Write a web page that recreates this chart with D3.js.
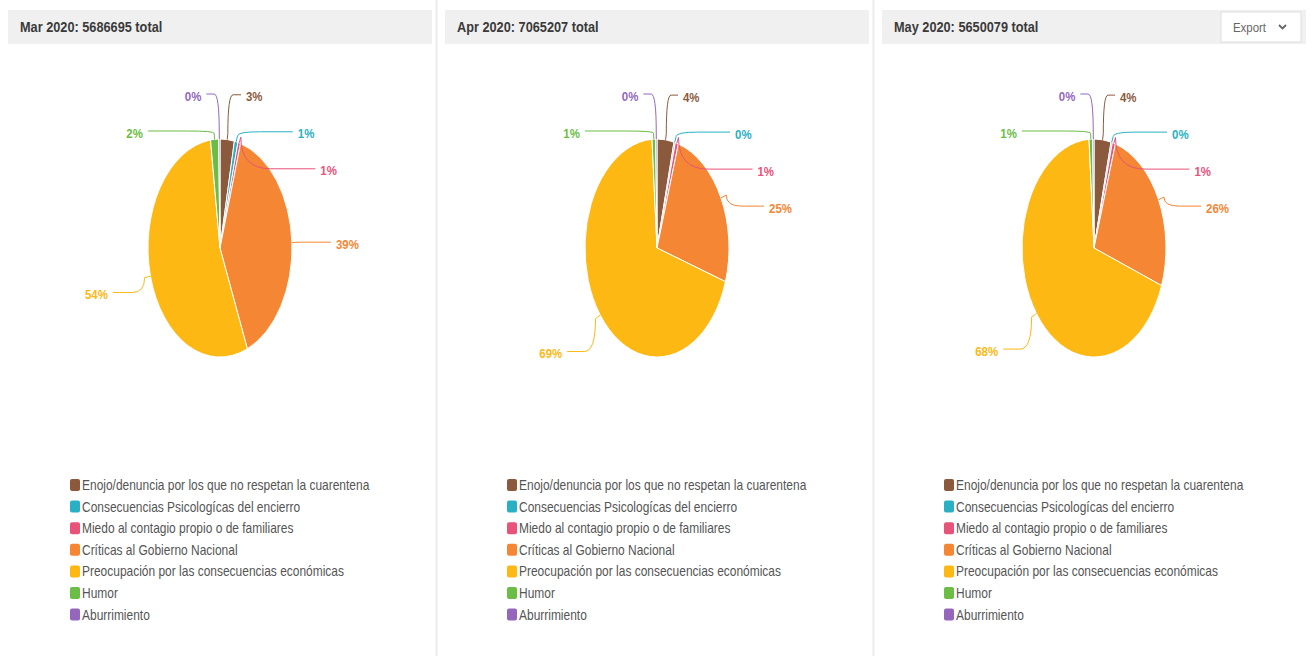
<!DOCTYPE html>
<html>
<head>
<meta charset="utf-8">
<script src="https://cdn.jsdelivr.net/npm/d3@7"></script>
<style>
  body { margin: 0; background: #fff; }
  svg { display: block; font-family: "Liberation Sans", Arial, sans-serif; }
</style>
</head>
<body>
<svg id="chart" width="1313" height="656"></svg>
<script>
// categories (legend order = slice order, clockwise from 12 o'clock)
const categories = [
    "Enojo/denuncia por los que no respetan la cuarentena",
    "Consecuencias Psicologícas del encierro",
    "Miedo al contagio propio o de familiares",
    "Críticas al Gobierno Nacional",
    "Preocupación por las consecuencias económicas",
    "Humor",
    "Aburrimiento"
];
const colors = ["#8b5a3c", "#2ab0c5", "#e8537a", "#f58634", "#fdb813", "#6cbd45", "#9467bd"];

// months and totals
const months = ["Mar 2020", "Apr 2020", "May 2020"];
const totals = [5686695, 7065207, 5650079];

// share of each category in percent
const marValues = [3.2, 0.8, 0.6, 39.2, 54.1, 1.8, 0.3];
const aprValues = [3.8, 0.3, 0.7, 25.2, 68.9, 0.8, 0.3];
const mayValues = [3.8, 0.3, 0.7, 25.8, 68.3, 0.8, 0.3];
const series = [marValues, aprValues, mayValues];

const svg = d3.select("#chart");
const panelW = 437;

// vertical separators between panels
[1, 2].forEach(i => {
    svg.append("line")
        .attr("x1", i * panelW - 0.5).attr("x2", i * panelW - 0.5)
        .attr("y1", 0).attr("y2", 656)
        .attr("stroke", "#ececec").attr("stroke-width", 2);
});

function drawPanel(idx) {
    let values = series[idx];
    let g = svg.append("g").attr("transform", `translate(${idx * panelW},0)`);

    // header bar
    g.append("rect")
        .attr("x", 8).attr("y", 10)
        .attr("width", 424).attr("height", 34)
        .attr("fill", "#f0f0f0");
    g.append("text")
        .attr("transform", "translate(20,32) scale(0.91,1)")
        .attr("font-size", 14).attr("font-weight", "bold")
        .attr("fill", "#3a3a3a")
        .text(`${months[idx]}: ${totals[idx]} total`);

    // pie (drawn as a circle, squeezed to an ellipse like the picture)
    let cx = 220, cy = 248, rx = 72, ry = 109;
    let data = d3.pie().sort(null)(values);
    let arc = d3.arc().innerRadius(0).outerRadius(ry);

    g.append("g")
        .attr("transform", `translate(${cx},${cy}) scale(${rx / ry},1)`)
        .selectAll("path")
        .data(data)
        .enter()
        .append("path")
        .attr("d", arc)
        .attr("fill", (d, i) => colors[i])
        .attr("stroke", "#fff")
        .attr("stroke-width", 1)
        .attr("vector-effect", "non-scaling-stroke");

    // labels: placed on an outer ellipse, then spread vertically on each side
    let lrx = rx + 44, gap = 37;
    let labels = data.map((d, i) => {
        let a = (d.startAngle + d.endAngle) / 2;
        let c = Math.cos(a);
        let lry = c > 0 ? 156 : 165;
        return {
            i: i,
            a: a,
            side: Math.sin(a) >= 0 ? 1 : -1,
            y: cy + 4 - lry * c,
            text: Math.round(values[i]) + "%"
        };
    });
    [1, -1].forEach(side => {
        let list = labels.filter(l => l.side === side).sort((p, q) => p.y - q.y);
        for (let k = 1; k < list.length; k++) {
            if (list[k].y < list[k - 1].y + gap) list[k].y = list[k - 1].y + gap;
        }
    });
    labels.forEach(l => {
        let norm = l.y < cy ? 154 : 183;
        let dy = Math.max(-1, Math.min(1, (l.y - cy) / norm));
        let off = Math.max(l.side > 0 ? 26 : 17, lrx * Math.sqrt(1 - dy * dy));
        l.x = cx + l.side * off;
    });

    labels.forEach(l => {
        let sx = Math.sin(l.a), sy = -Math.cos(l.a);
        let p0 = [cx + rx * sx, cy + ry * sy];
        let p1 = [cx + (rx + 6) * sx, cy + (ry + 6) * sy];
        let ex = l.x - l.side * 5, ey = l.y - 2;
        let path = d3.path();
        path.moveTo(p0[0], p0[1]);
        path.lineTo(p1[0], p1[1]);
        path.quadraticCurveTo(p1[0], ey, p1[0] + (ex - p1[0]) * 0.4, ey);
        path.lineTo(ex, ey);
        g.append("path")
            .attr("d", path.toString())
            .attr("fill", "none")
            .attr("stroke", colors[l.i])
            .attr("stroke-width", 1);
        g.append("text")
            .attr("transform", `translate(${l.x},${l.y}) scale(0.88,1)`)
            .attr("dy", "0.35em")
            .attr("text-anchor", l.side > 0 ? "start" : "end")
            .attr("font-size", 13).attr("font-weight", "bold")
            .attr("fill", colors[l.i])
            .text(l.text);
    });

    // legend
    let leg = g.append("g").attr("transform", "translate(70,479)");
    let items = leg.selectAll("g")
        .data(categories)
        .enter()
        .append("g")
        .attr("transform", (d, i) => `translate(0,${i * 21.6})`);
    items.append("rect")
        .attr("width", 10).attr("height", 12).attr("rx", 2)
        .attr("fill", (d, i) => colors[i]);
    items.append("text")
        .attr("transform", "translate(12,11) scale(0.855,1)")
        .attr("font-size", 14)
        .attr("fill", "#555")
        .text(d => d);
}

months.forEach((m, i) => drawPanel(i));

// export button on the last panel
let btn = svg.append("g").attr("transform", "translate(1221,12)");
btn.append("rect")
    .attr("width", 80).attr("height", 30)
    .attr("fill", "#fff").attr("stroke", "#ddd");
btn.append("text")
    .attr("transform", "translate(12,20) scale(0.88,1)")
    .attr("font-size", 13).attr("fill", "#666")
    .text("Export");
btn.append("path")
    .attr("d", "M58,13 L61.5,16.5 L65,13")
    .attr("fill", "none").attr("stroke", "#666").attr("stroke-width", 1.8);
</script>
</body>
</html>
